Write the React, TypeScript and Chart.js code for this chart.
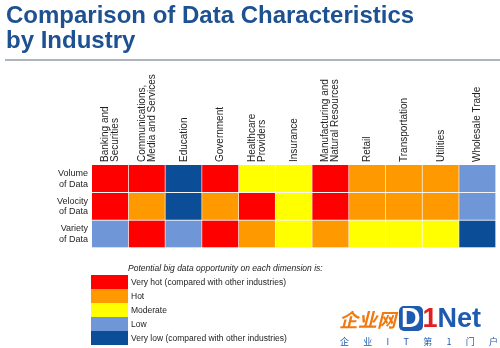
import React, { useEffect, useRef } from "react";
import { Chart, registerables } from "chart.js";
Chart.register(...registerables);

const industries: string[][] = [
  ["Banking and", "Securities"],
  ["Communications,", "Media and Services"],
  ["Education"],
  ["Government"],
  ["Healthcare", "Providers"],
  ["Insurance"],
  ["Manufacturing and", "Natural Resources"],
  ["Retail"],
  ["Transportation"],
  ["Utilities"],
  ["Wholesale Trade"],
];
const dimensions: string[][] = [
  ["Volume", "of Data"],
  ["Velocity", "of Data"],
  ["Variety", "of Data"],
];
// 4 = very hot, 3 = hot, 2 = moderate, 1 = low, 0 = very low
const volumeLevels = [4, 4, 0, 4, 2, 2, 4, 3, 3, 3, 1];
const velocityLevels = [4, 3, 0, 3, 4, 2, 4, 3, 3, 3, 1];
const varietyLevels = [1, 4, 1, 4, 3, 2, 3, 2, 2, 2, 0];
const levelColors = ["#0C4D98", "#6F97D7", "#FFFF00", "#FF9900", "#FF0000"];
const legendTitle = "Potential big data opportunity on each dimension is:";
const legendLevels = [4, 3, 2, 1, 0];
const legendLabels = [
  "Very hot (compared with other industries)",
  "Hot",
  "Moderate",
  "Low",
  "Very low (compared with other industries)",
];

const FONT = '"Liberation Sans", Arial, sans-serif';

const labelPlugin = {
  id: "heatLabels",
  afterDraw(chart: any) {
    const ctx = chart.ctx;
    const x = chart.scales.x;
    const y = chart.scales.y;
    const area = chart.chartArea;
    ctx.save();
    ctx.fillStyle = "#1e1e1e";
    // column labels
    ctx.font = `10px ${FONT}`;
    ctx.textAlign = "left";
    ctx.textBaseline = "middle";
    industries.forEach((lines, i) => {
      const cx = x.getPixelForValue(i);
      const lh = 10;
      lines.forEach((line, j) => {
        const off = (j - (lines.length - 1) / 2) * lh;
        ctx.save();
        ctx.translate(cx + off, area.top - 3);
        ctx.rotate(-Math.PI / 2);
        ctx.fillText(line, 0, 0);
        ctx.restore();
      });
    });
    // row labels
    ctx.font = `9px ${FONT}`;
    ctx.textAlign = "right";
    dimensions.forEach((lines, i) => {
      const cy = (y.getPixelForValue(i) + y.getPixelForValue(i + 1)) / 2;
      lines.forEach((line, j) => {
        const off = (j - (lines.length - 1) / 2) * 10.5;
        ctx.fillText(line, area.left - 4, cy + off);
      });
    });
    ctx.restore();
  },
};

export default function App() {
  const ref = useRef<HTMLCanvasElement>(null);
  useEffect(() => {
    document.body.style.margin = "0";
    const levels = [volumeLevels, velocityLevels, varietyLevels];
    const chart = new Chart(ref.current!, {
      type: "bar",
      data: {
        labels: industries.map((l) => l.join(" ")),
        datasets: dimensions.map((d, r) => ({
          label: d.join(" "),
          data: industries.map(() => 1),
          backgroundColor: levels[r].map((v) => levelColors[v]),
          borderColor: "#F4F4F4",
          borderWidth: { top: 0, left: 0, right: 1, bottom: 1 },
          borderSkipped: false,
          barPercentage: 1,
          categoryPercentage: 1,
        })),
      },
      options: {
        animation: false,
        responsive: false,
        devicePixelRatio: 1,
        layout: { padding: { left: 92, right: 4, top: 165, bottom: 100 } },
        plugins: { legend: { display: false }, tooltip: { enabled: false } },
        scales: {
          x: { stacked: true, display: false },
          y: { stacked: true, display: false, reverse: true, min: 0, max: 3 },
        },
      },
      plugins: [labelPlugin],
    });
    return () => chart.destroy();
  }, []);

  return (
    <div style={{ position: "fixed", left: 0, top: 0, width: 500, height: 348, background: "#fff", fontFamily: FONT, overflow: "hidden" }}>
      <canvas ref={ref} width={500} height={348} style={{ position: "absolute", left: 0, top: 0 }} />
      <div style={{ position: "absolute", left: 6, top: 2, fontSize: 24, lineHeight: "25px", fontWeight: "bold", color: "#1D5191" }}>
        Comparison of Data Characteristics
        <br />
        by Industry
      </div>
      <div style={{ position: "absolute", left: 5, top: 59, width: 495, height: 2, background: "#AEB5BD" }} />
      <div style={{ position: "absolute", left: 128, top: 262, fontSize: 8.5, lineHeight: "12px", fontStyle: "italic", color: "#222", whiteSpace: "nowrap" }}>
        {legendTitle}
      </div>
      {legendLevels.map((lv, i) => (
        <div key={i} style={{ position: "absolute", left: 91, top: 275 + i * 14, height: 14, display: "flex", alignItems: "center" }}>
          <div style={{ width: 37, height: 14, background: levelColors[lv] }} />
          <div style={{ marginLeft: 3, fontSize: 8.5, color: "#222", whiteSpace: "nowrap" }}>{legendLabels[i]}</div>
        </div>
      ))}
      <div style={{ position: "absolute", left: 339, top: 304, height: 28, display: "flex", alignItems: "center", whiteSpace: "nowrap" }}>
        <span style={{ fontFamily: '"Noto Sans CJK SC", sans-serif', fontWeight: "bold", fontSize: 19, color: "#F07A10", fontStyle: "italic" }}>企业网</span>
        <span style={{ marginLeft: 3, background: "#1E5BB0", color: "#fff", fontWeight: "bold", fontSize: 27, lineHeight: "25px", padding: "0 2px", borderRadius: 5 }}>D</span>
        <span style={{ color: "#E02020", fontWeight: "bold", fontSize: 27, lineHeight: "25px" }}>1</span>
        <span style={{ color: "#1E5BB0", fontWeight: "bold", fontSize: 27, lineHeight: "25px" }}>Net</span>
      </div>
      <div style={{ position: "absolute", left: 340, top: 336, width: 158, display: "flex", justifyContent: "space-between", fontFamily: '"Noto Sans CJK SC", sans-serif', fontSize: 9, lineHeight: "12px", color: "#1E5BB0" }}>
        {["企", "业", "I", "T", "第", "1", "门", "户"].map((c, i) => (
          <span key={i}>{c}</span>
        ))}
      </div>
    </div>
  );
}
